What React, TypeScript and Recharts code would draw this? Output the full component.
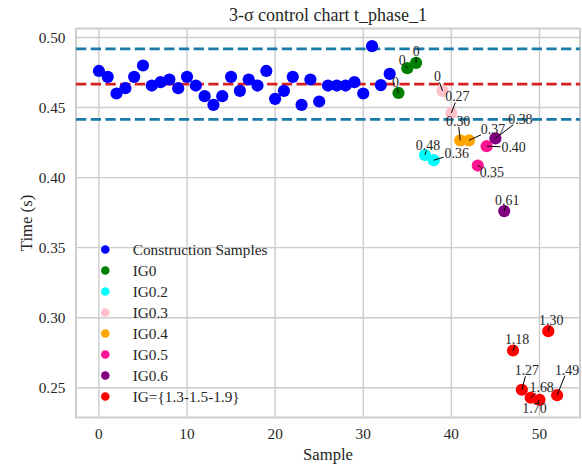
import {
  ScatterChart,
  Scatter,
  XAxis,
  YAxis,
  CartesianGrid,
  ReferenceLine,
  ReferenceArea,
} from "recharts";

const FONT = "'Liberation Serif', 'Times New Roman', serif";
const TEXT = "#262626";
const GRID = "#cccccc";

// phase I construction samples
const constructionSamples = [
  0, 1, 2, 3, 4, 5, 6, 7, 8, 9, 10, 11, 12, 13, 14, 15, 16,
  17, 18, 19, 20, 21, 22, 23, 24, 25, 26, 27, 28, 29, 30, 31, 32, 33,
];
const constructionTimes = [
  0.4761, 0.4719, 0.46, 0.4638, 0.4719, 0.48, 0.4657, 0.4681, 0.47, 0.4638,
  0.4719, 0.4657, 0.4581, 0.4519, 0.4581, 0.4719, 0.4619, 0.47, 0.4657, 0.4761,
  0.4562, 0.4619, 0.4719, 0.4519, 0.47, 0.4543, 0.4657, 0.4657, 0.4657, 0.4681,
  0.46, 0.4938, 0.466, 0.474,
];

// test samples by IG level
const ig0Samples = [34, 35, 36];
const ig0Times = [0.4604, 0.4781, 0.4819];
const ig0Labels = ["0", "0", "0"];

const ig02Samples = [37, 38];
const ig02Times = [0.4161, 0.4124];
const ig02Labels = ["0.48", "0.36"];

const ig03Samples = [39, 40];
const ig03Times = [0.4619, 0.4461];
const ig03Labels = ["0", "0.27"];

const ig04Samples = [41, 42];
const ig04Times = [0.4266, 0.4266];
const ig04Labels = ["0.30", "0.37"];

const ig05Samples = [43, 44];
const ig05Times = [0.4086, 0.4224];
const ig05Labels = ["0.35", "0.40"];

const ig06Samples = [45, 46];
const ig06Times = [0.428, 0.3761];
const ig06Labels = ["0.38", "0.61"];

const igHighSamples = [47, 48, 49, 50, 51, 52];
const igHighTimes = [0.2766, 0.2486, 0.2429, 0.2414, 0.2904, 0.2447];
const igHighLabels = ["1.18", "1.27", "1.68", "1.70", "1.30", "1.49"];

// control limits
const UCL = 0.4918;
const CL = 0.4667;
const LCL = 0.4416;

const xTicks = [0, 10, 20, 30, 40, 50];
const yTicks = [0.25, 0.3, 0.35, 0.4, 0.45, 0.5];

const toPoints = (xs: number[], ys: number[], labels?: string[]) =>
  xs.map((x, i) => ({ x, y: ys[i], label: labels ? labels[i] : undefined }));

const series = [
  { name: "Construction Samples", color: "#0000ff", data: toPoints(constructionSamples, constructionTimes) },
  { name: "IG0", color: "#008000", data: toPoints(ig0Samples, ig0Times, ig0Labels) },
  { name: "IG0.2", color: "#00ffff", data: toPoints(ig02Samples, ig02Times, ig02Labels) },
  { name: "IG0.3", color: "#ffc0cb", data: toPoints(ig03Samples, ig03Times, ig03Labels) },
  { name: "IG0.4", color: "#ffa500", data: toPoints(ig04Samples, ig04Times, ig04Labels) },
  { name: "IG0.5", color: "#ff1493", data: toPoints(ig05Samples, ig05Times, ig05Labels) },
  { name: "IG0.6", color: "#800080", data: toPoints(ig06Samples, ig06Times, ig06Labels) },
  { name: "IG={1.3-1.5-1.9}", color: "#ff0000", data: toPoints(igHighSamples, igHighTimes, igHighLabels) },
];

const labelled = series.flatMap((s) => s.data.filter((d) => d.label !== undefined));

// where each annotation text sits, px from its point (dx, dy)
const labelOffset: Record<number, [number, number]> = {
  34: [-3, -10], 35: [-5, -8], 36: [0, -11],
  37: [3, -10], 38: [23, -7],
  39: [-5, -14], 40: [6, -16],
  41: [-2, -19], 42: [24, -11],
  43: [14, 7], 44: [27, 1],
  45: [25, -19], 46: [3, -11],
  47: [4, -11], 48: [5, -19], 49: [11, -10],
  50: [-5, 9], 51: [3, -11], 52: [10, -25],
};

const ANN_SIZE = 13.9;

const textWidth = (s: string) =>
  s.split("").reduce((w, c) => w + (c === "." ? 0.25 : 0.5), 0) * ANN_SIZE;

function Annotation(props: any) {
  const { cx, cy, payload } = props;
  if (!payload || payload.label === undefined) return null;
  const [dx, dy] = labelOffset[payload.x] || [0, -11];
  const tx = cx + dx;
  const ty = cy + dy;
  const hw = textWidth(payload.label) / 2 + 1;
  const hh = 5.5;
  const t = Math.min(
    dx ? hw / Math.abs(dx) : Infinity,
    dy ? hh / Math.abs(dy) : Infinity
  );
  return (
    <g>
      {t < 0.9 && (
        <line
          x1={cx}
          y1={cy}
          x2={tx - dx * t}
          y2={ty - dy * t}
          stroke="#000"
          strokeWidth={1}
        />
      )}
      <text
        x={tx}
        y={ty}
        textAnchor="middle"
        dominantBaseline="central"
        fontFamily={FONT}
        fontSize={ANN_SIZE}
        fill={TEXT}
      >
        {payload.label}
      </text>
    </g>
  );
}

const tickStyle = { fill: TEXT, fontSize: 15.3, fontFamily: FONT };

export default function App() {
  return (
    <div
      style={{
        position: "absolute",
        left: 0,
        top: 0,
        width: 582,
        height: 466,
        background: "#fff",
        fontFamily: FONT,
      }}
    >
      <ScatterChart
        width={582}
        height={466}
        margin={{ top: 28.5, right: 2, bottom: 0, left: 0 }}
        style={{ fontFamily: FONT }}
      >
        <CartesianGrid stroke={GRID} strokeWidth={1.4} />

        <ReferenceArea
          x1={-2.6}
          x2={54.6}
          y1={0.2288}
          y2={0.5064}
          fill="none"
          stroke={GRID}
          strokeWidth={1.7}
        />

        <XAxis
          type="number"
          dataKey="x"
          domain={[-2.6, 54.6]}
          ticks={xTicks}
          allowDataOverflow
          height={48.5}
          axisLine={false}
          tickLine={false}
          tickSize={0}
          tickMargin={11}
          tick={tickStyle}
          label={{
            content: (p: any) => (
              <text
                x={p.viewBox.x + p.viewBox.width / 2}
                y={p.viewBox.y + 37}
                textAnchor="middle"
                dominantBaseline="central"
                fontFamily={FONT}
                fontSize={16.7}
                fill={TEXT}
              >
                Sample
              </text>
            ),
          }}
        />

        <YAxis
          type="number"
          dataKey="y"
          domain={[0.2288, 0.5064]}
          ticks={yTicks}
          allowDataOverflow
          width={76}
          axisLine={false}
          tickLine={false}
          tickSize={0}
          tickMargin={10.5}
          tick={tickStyle}
          tickFormatter={(v: number) => v.toFixed(2)}
          label={{
            content: (p: any) => {
              const lx = 26;
              const ly = p.viewBox.y + p.viewBox.height / 2;
              return (
                <text
                  x={lx}
                  y={ly}
                  transform={`rotate(-90 ${lx} ${ly})`}
                  textAnchor="middle"
                  dominantBaseline="central"
                  fontFamily={FONT}
                  fontSize={16.7}
                  fill={TEXT}
                >
                  Time (s)
                </text>
              );
            },
          }}
        />

        <ReferenceLine y={UCL} stroke="#1a7aa8" strokeWidth={2.8} strokeDasharray="10.3 4.4" zIndex={300} />
        <ReferenceLine y={CL} stroke="#d62020" strokeWidth={2.8} strokeDasharray="10.3 4.4" zIndex={300} />
        <ReferenceLine y={LCL} stroke="#1a7aa8" strokeWidth={2.8} strokeDasharray="10.3 4.4" zIndex={300} />

        {series.map((s) => (
          <Scatter
            key={s.name}
            name={s.name}
            data={s.data}
            fill={s.color}
            isAnimationActive={false}
            zIndex={700}
            shape={(p: any) => <circle cx={p.cx} cy={p.cy} r={6.1} fill={s.color} />}
          />
        ))}

        <Scatter
          name="labels"
          data={labelled}
          fill="none"
          legendType="none"
          isAnimationActive={false}
          zIndex={800}
          shape={(p: any) => <Annotation {...p} />}
        />
      </ScatterChart>

      {/* title */}
      <div
        style={{
          position: "absolute",
          left: 76,
          width: 504,
          top: 5.5,
          lineHeight: "18px",
          fontSize: 18,
          textAlign: "center",
          color: TEXT,
        }}
      >
        3-σ control chart t_phase_1
      </div>

      {/* legend */}
      {series.map((s, i) => (
        <div
          key={s.name}
          style={{
            position: "absolute",
            left: 98,
            top: 249 + 21 * i - 10.5,
            height: 21,
            lineHeight: "21px",
            fontSize: 15.3,
            color: TEXT,
            whiteSpace: "nowrap",
          }}
        >
          <svg
            width={14}
            height={21}
            style={{ position: "absolute", left: 0, top: 0 }}
          >
            <circle cx={7.3} cy={10.5} r={4.3} fill={s.color} />
          </svg>
          <span style={{ position: "absolute", left: 34.7 }}>{s.name}</span>
        </div>
      ))}
    </div>
  );
}
